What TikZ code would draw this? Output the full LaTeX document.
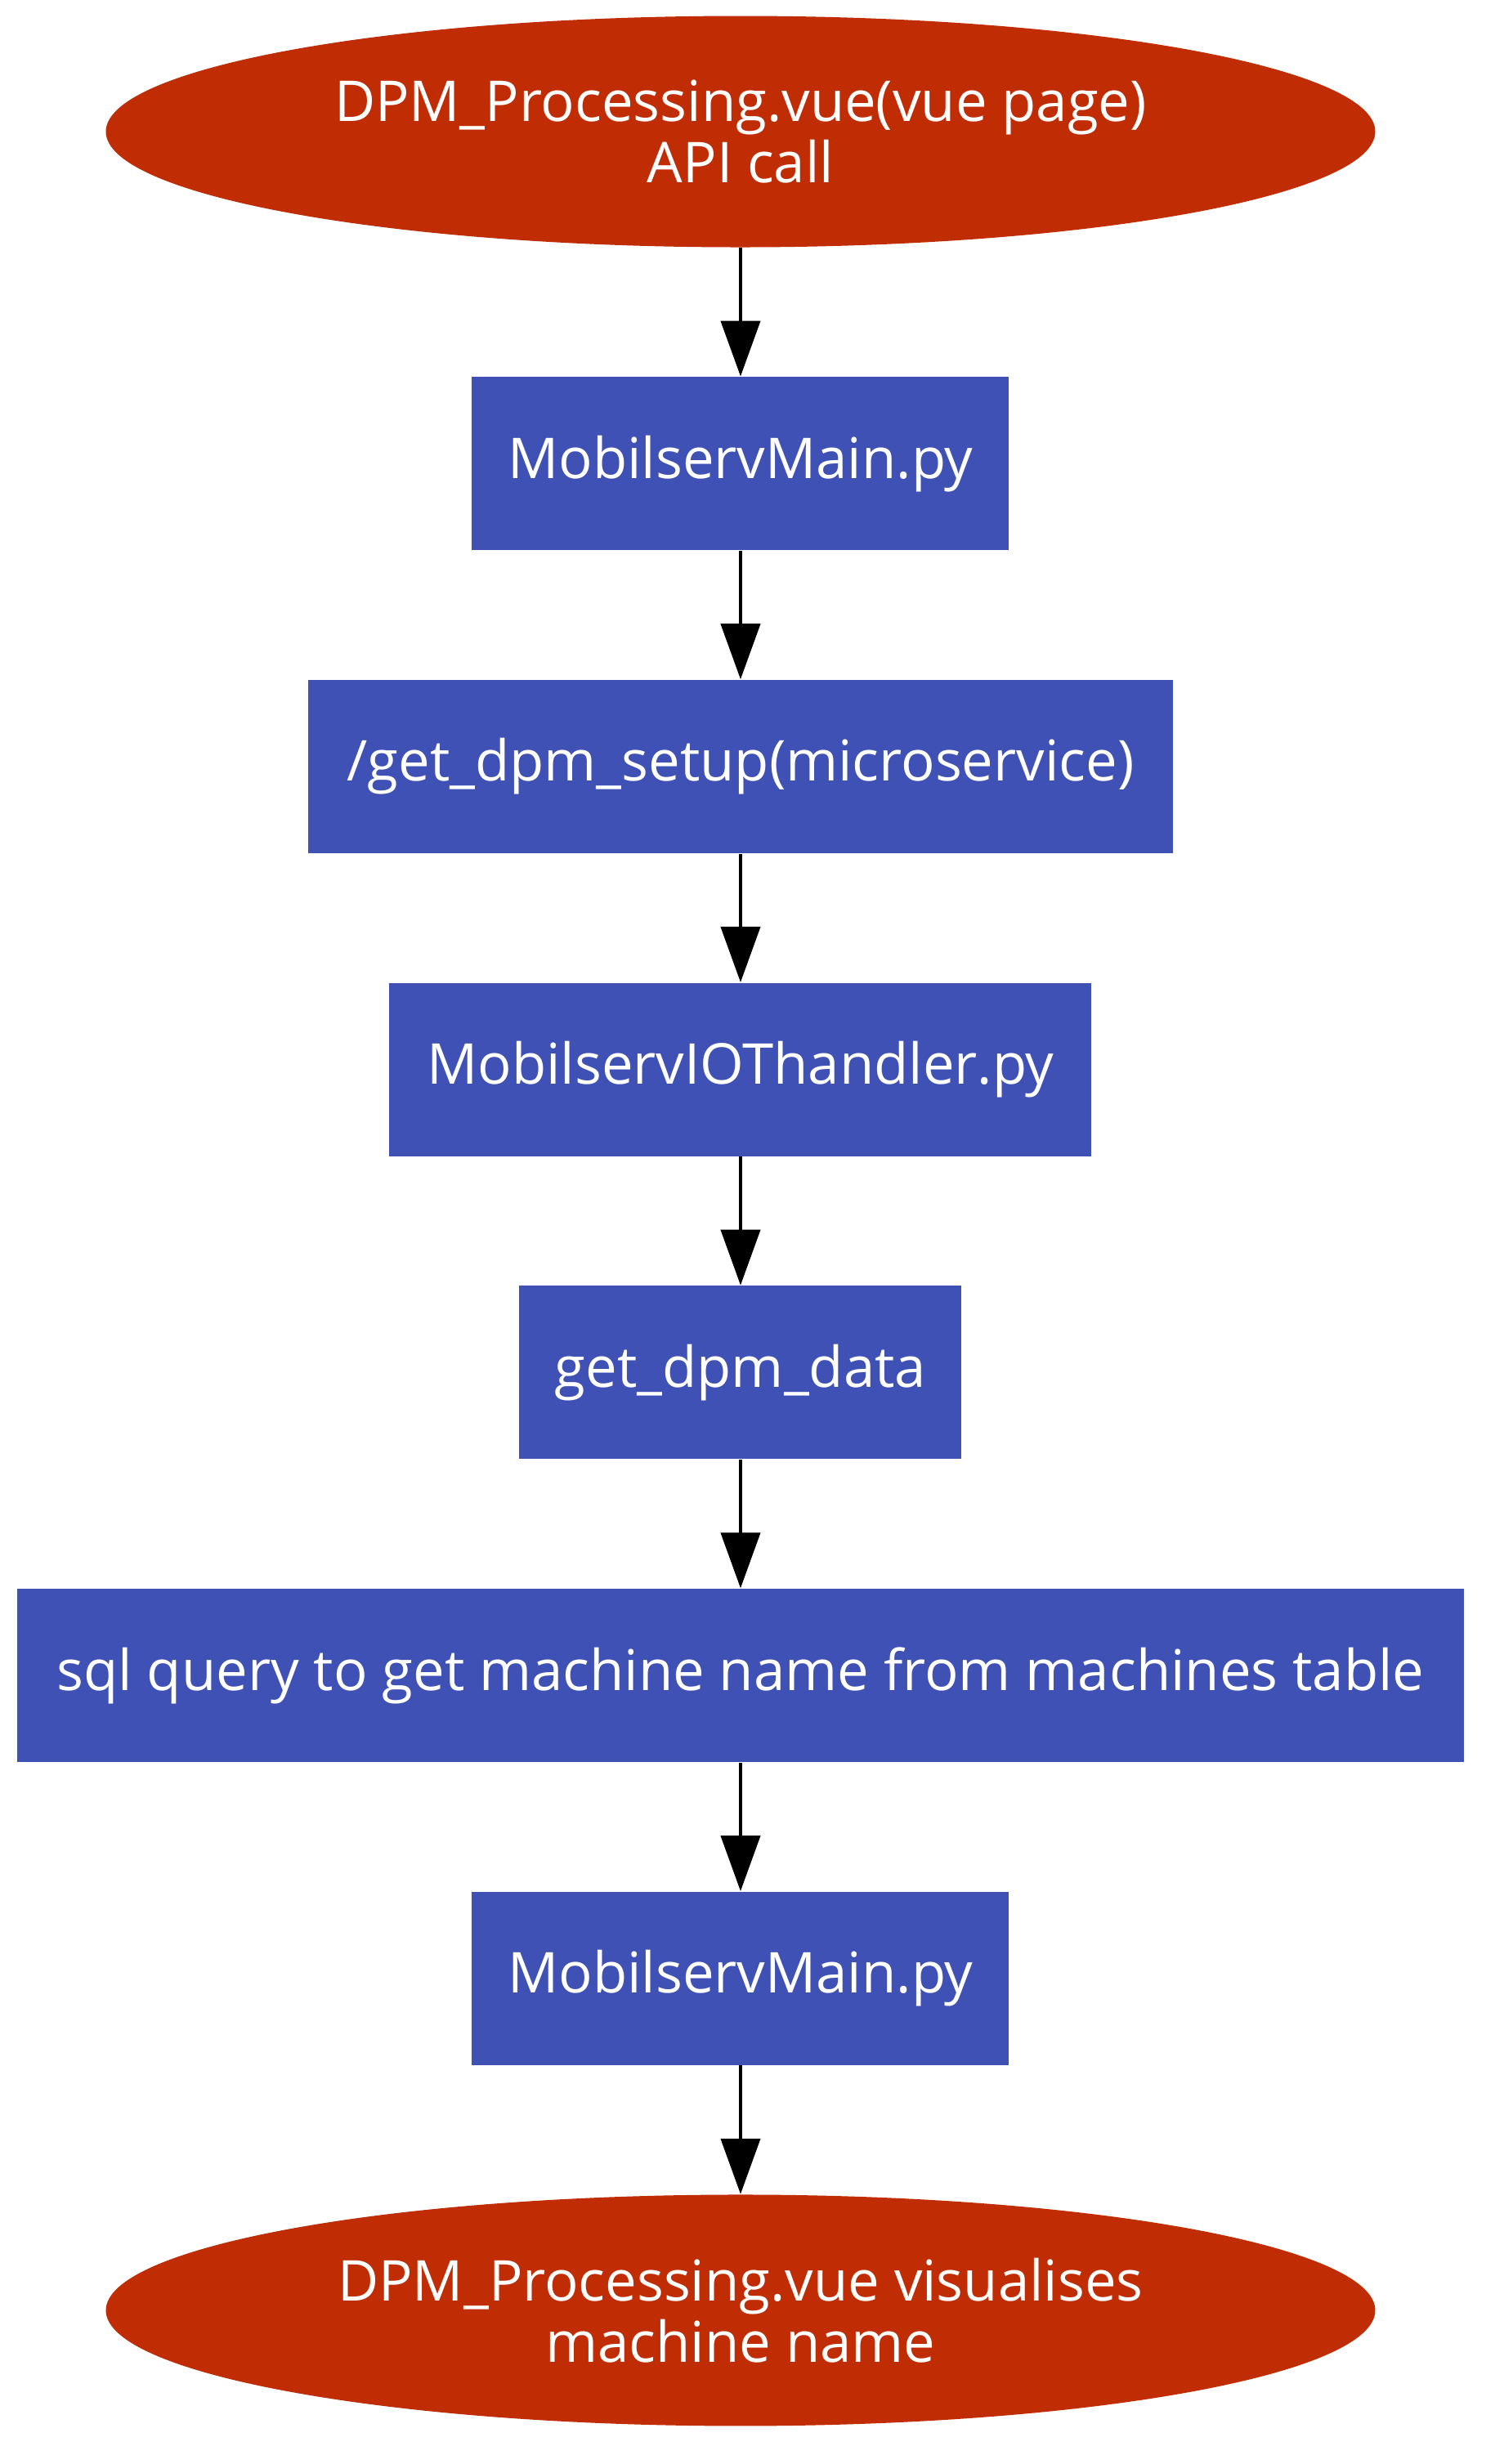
\documentclass[tikz,border=0pt]{standalone}
\usepackage{fontspec}
\setmainfont{Open Sans}
\usetikzlibrary{shapes.geometric,arrows.meta,positioning}
\definecolor{PageRed}{HTML}{C02C03}
\definecolor{StepBlue}{HTML}{3F51B5}
\tikzset{
  % Base box
  FB/.style={rectangle,minimum height=2.12cm,inner sep=0pt,
             text centered,align=center,fill=StepBlue,text=white,
             font=\fontsize{19.6}{22}\selectfont},
  % Start / end ellipse
  EL/.style={ellipse,minimum width=15.53cm,minimum height=2.83cm,inner sep=0pt,
             text centered,align=center,fill=PageRed,text=white,
             font=\fontsize{19.6}{21.3}\selectfont},
  % Arrow
  arr/.style={-{Triangle[length=0.68cm,width=0.48cm]},line width=1.2pt}
}
\begin{document}
\begin{tikzpicture}[node distance=1.573cm]
  \fill[white] (-9.06,1.61) rectangle (9.34,-28.54);
  \useasboundingbox (-9.06,1.61) rectangle (9.34,-28.54);

  \node[EL]                                  (page)  {DPM\_Processing.vue(vue page)\\API call};
  \node[FB,minimum width=6.57cm,below=of page]  (main)  {MobilservMain.py};
  \node[FB,minimum width=10.57cm,below=of main] (setup) {/get\_dpm\_setup(microservice)};
  \node[FB,minimum width=8.59cm,below=of setup] (iot)   {MobilservIOThandler.py};
  \node[FB,minimum width=5.41cm,below=of iot]   (data)  {get\_dpm\_data};
  \node[FB,minimum width=17.69cm,below=of data] (sql)   {sql query to get machine name from machines table};
  \node[FB,minimum width=6.57cm,below=of sql]   (back)  {MobilservMain.py};
  \node[EL,below=of back]                      (show)  {DPM\_Processing.vue visualises\\machine name};

  \draw[arr](page)--(main);
  \draw[arr](main)--(setup);
  \draw[arr](setup)--(iot);
  \draw[arr](iot)--(data);
  \draw[arr](data)--(sql);
  \draw[arr](sql)--(back);
  \draw[arr](back)--(show);
\end{tikzpicture}
\end{document}
